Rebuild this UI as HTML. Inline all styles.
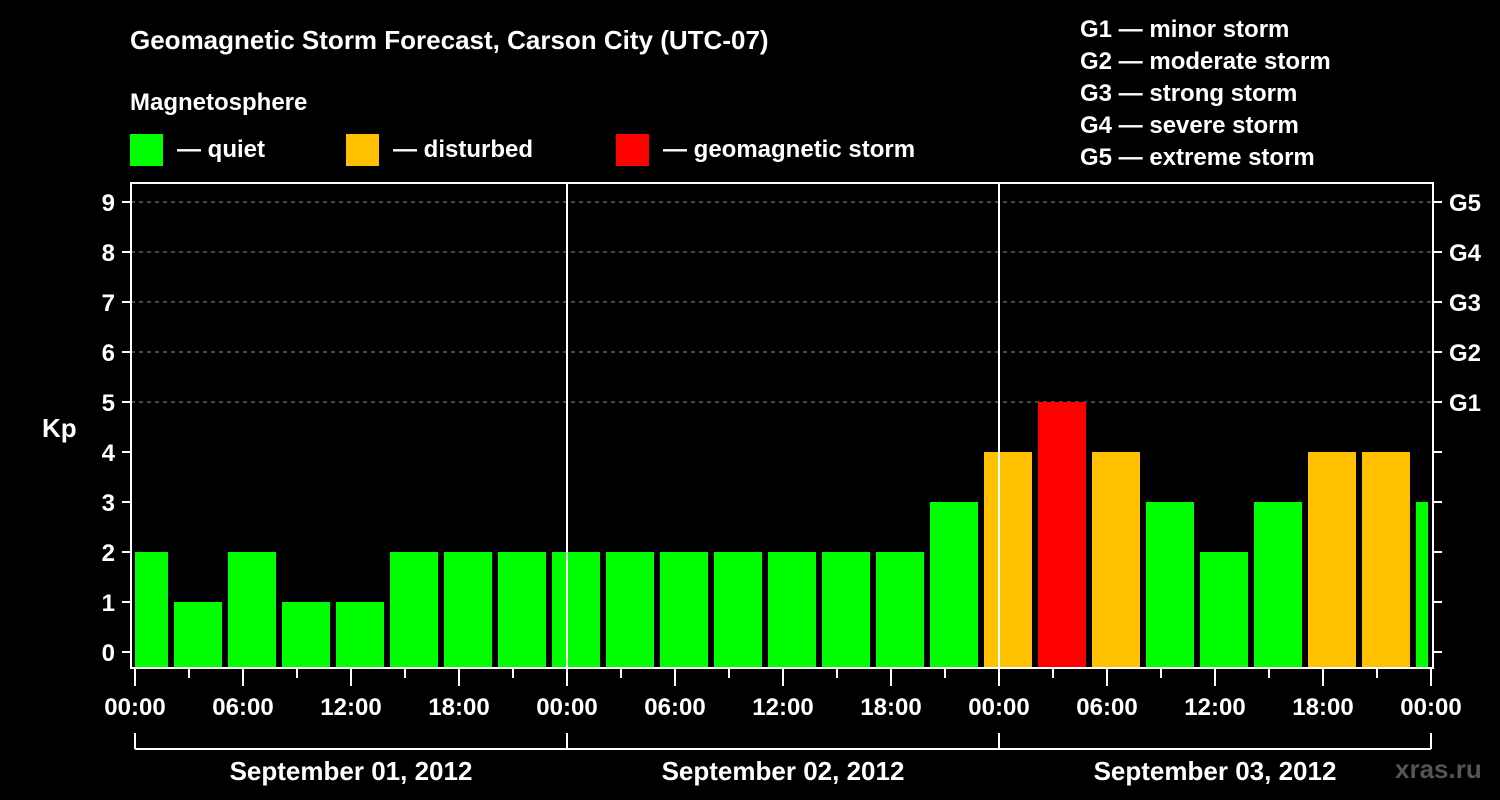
<!DOCTYPE html>
<html><head><meta charset="utf-8"><style>
html,body{margin:0;padding:0;background:#000;width:1500px;height:800px;overflow:hidden}
svg{display:block}
text{font-family:"Liberation Sans",Arial,sans-serif;font-weight:bold;fill:#fff}
</style></head><body>
<svg id="c" width="1500" height="800">
<text x="130" y="49" font-size="26">Geomagnetic Storm Forecast, Carson City (UTC-07)</text>
<text x="130" y="110" font-size="24">Magnetosphere</text>
<g><rect x="130" y="134" width="33" height="32" fill="#00ff00"/><text x="177" y="157" font-size="24">— quiet</text></g>
<g><rect x="346" y="134" width="33" height="32" fill="#ffc000"/><text x="393" y="157" font-size="24">— disturbed</text></g>
<g><rect x="616" y="134" width="33" height="32" fill="#ff0000"/><text x="663" y="157" font-size="24">— geomagnetic storm</text></g>
<g font-size="24">
<text x="1080" y="37">G1 — minor storm</text>
<text x="1080" y="69">G2 — moderate storm</text>
<text x="1080" y="101">G3 — strong storm</text>
<text x="1080" y="133">G4 — severe storm</text>
<text x="1080" y="165">G5 — extreme storm</text>
</g>
<text x="42" y="437" font-size="26">Kp</text>
<text x="1395" y="778" font-size="26" style="fill:#555">xras.ru</text>
<g id="plot"></g>
</svg>
<script>
const kpValues=[2,1,2,1,1,2,2,2,2,2,2,2,2,2,2,3,4,5,4,3,2,3,4,4,3];
const yTicks=[0,1,2,3,4,5,6,7,8,9];
const gLabels=["G1","G2","G3","G4","G5"];
const gLevels=[5,6,7,8,9];
const dayLabels=["September 01, 2012","September 02, 2012","September 03, 2012"];
const hourLabels=["00:00","06:00","12:00","18:00"];
const firstSlotHour=-1; // local hour where first 3h slot starts (UTC-07)

const NS="http://www.w3.org/2000/svg";
const g=document.getElementById('plot');
const X0=135,PXH=18,L=131,R=1433,T=183,B=668;
const x=h=>X0+h*PXH;
const y=v=>652-v*50;
function el(t,a){const e=document.createElementNS(NS,t);for(const k in a)e.setAttribute(k,a[k]);g.appendChild(e);return e;}
const xEnd=x(72);
// grid
gLevels.forEach((v,i)=>{
 const l=el('line',{x1:L,x2:R,y1:y(v),y2:y(v),stroke:'#888','stroke-dasharray':'4,4','stroke-width':1});
 
 
 const t=el('text',{x:1449,y:y(v)+9,'font-size':24});t.textContent=gLabels[i];
 
 
});
// bars
kpValues.forEach((v,i)=>{
 let s=x(firstSlotHour+i*3)+3,e=x(firstSlotHour+i*3+3)-3;
 s=Math.max(s,X0);e=Math.min(e,xEnd-3);
 if(e<=s)return;
 const c=v>=5?'#ff0000':(v>=4?'#ffc000':'#00ff00');
 const r=el('rect',{x:s,y:y(v),width:e-s,height:667-y(v),fill:c});
 
 
});
// frame
const f=el('rect',{x:L,y:T,width:R-L,height:B-T,fill:'none',stroke:'#fff','stroke-width':2});


[1,2].forEach(d=>{const l=el('line',{x1:x(d*24),x2:x(d*24),y1:T,y2:B,stroke:'#fff','stroke-width':2});
 
 });
// y ticks
yTicks.forEach(v=>{
 el('line',{x1:122,x2:L,y1:y(v),y2:y(v),stroke:'#fff','stroke-width':2});
 el('line',{x1:R,x2:1442,y1:y(v),y2:y(v),stroke:'#fff','stroke-width':2});
 const t=el('text',{x:115,y:y(v)+9,'font-size':24,'text-anchor':'end'});t.textContent=v;
 
 
});
// x ticks
for(let h=0;h<=72;h+=3){
 const major=h%6===0;
 el('line',{x1:x(h),x2:x(h),y1:B,y2:major?686:678,stroke:'#fff','stroke-width':2});
 if(major){const t=el('text',{x:x(h),y:715,'font-size':24,'text-anchor':'middle'});
  t.textContent=hourLabels[(h/6)%4];
  
  }
}
// day bracket
el('line',{x1:X0,x2:xEnd,y1:749,y2:749,stroke:'#fff','stroke-width':2});
for(let d=0;d<=3;d++)el('line',{x1:x(d*24),x2:x(d*24),y1:733,y2:749,stroke:'#fff','stroke-width':2});
dayLabels.forEach((s,d)=>{const t=el('text',{x:x(d*24+12),y:780,'font-size':26,'text-anchor':'middle'});t.textContent=s;
 
 });
</script>
</body></html>
